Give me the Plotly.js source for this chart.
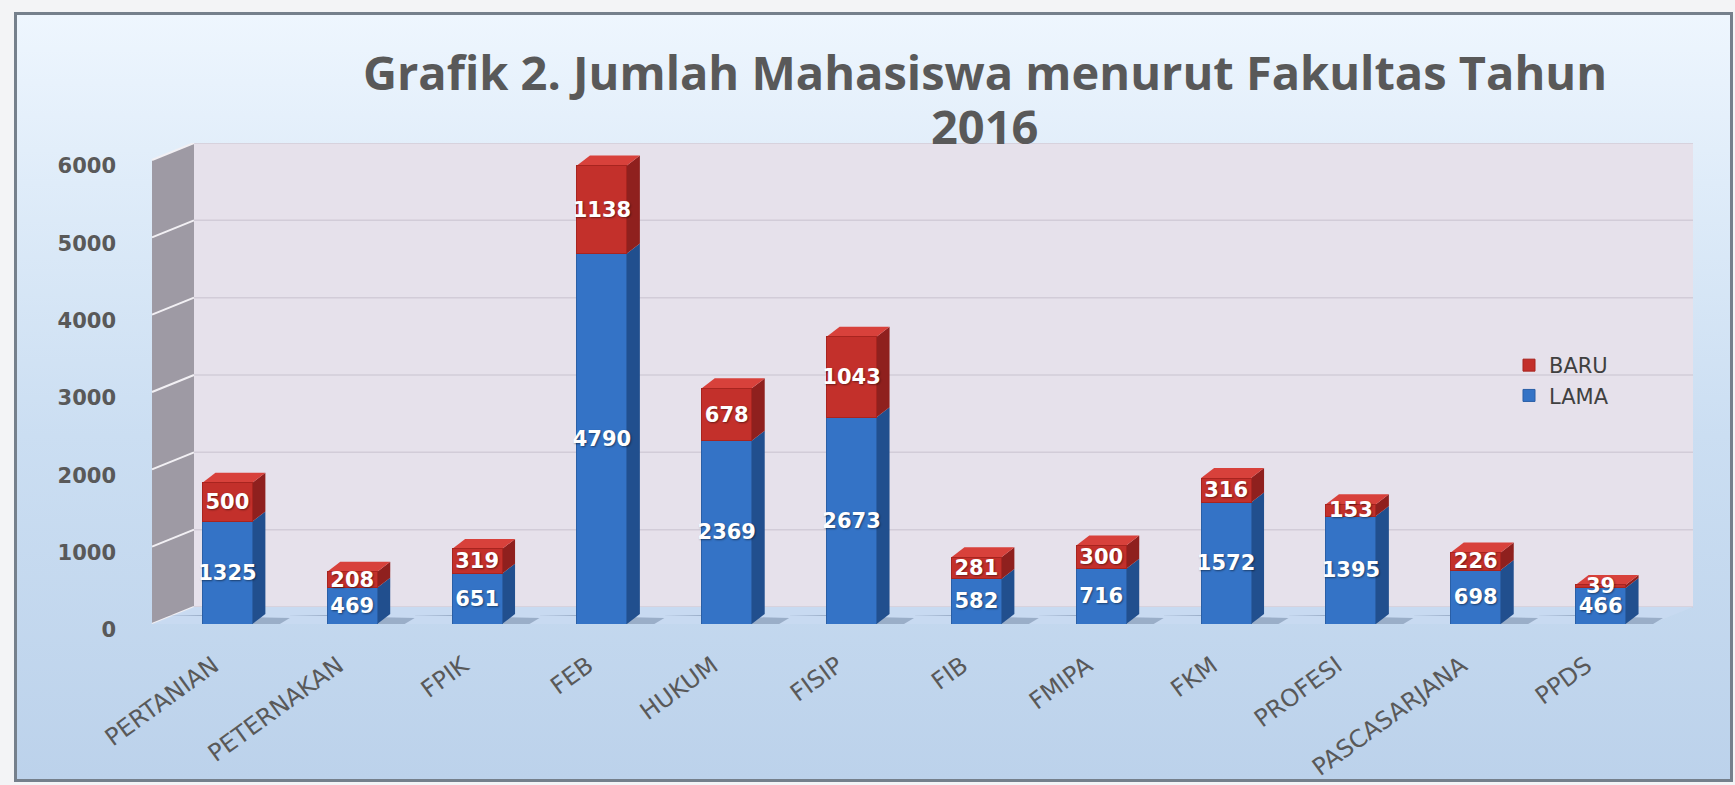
<!DOCTYPE html>
<html><head><meta charset="utf-8">
<script src="https://cdn.plot.ly/plotly-3.0.1.min.js"></script>
<style>
html,body{margin:0;padding:0;background:#f3f4f6;overflow:hidden;}
#frame{position:absolute;left:14px;top:12px;width:1713px;height:764px;border:3px solid #75808c;
  background:linear-gradient(to bottom,#eef6fe 0%,#dfecf9 22%,#cbdef2 55%,#bcd2eb 100%);}
#chart{position:absolute;left:0;top:0;width:1735px;height:785px;}
</style></head><body><div id="frame"></div><div id="chart"></div>
<script>
// ---- data ----
const categories = ['PERTANIAN','PETERNAKAN','FPIK','FEB','HUKUM','FISIP','FIB','FMIPA','FKM','PROFESI','PASCASARJANA','PPDS'];
const lama = [1325,469,651,4790,2369,2673,582,716,1572,1395,698,466];
const baru = [500,208,319,1138,678,1043,281,300,316,153,226,39];
const yTicks = [0,1000,2000,3000,4000,5000,6000];
const seriesNames = ['LAMA','BARU'];
const titleLine1 = 'Grafik 2. Jumlah Mahasiswa menurut Fakultas Tahun';
const titleLine2 = '2016';

// ---- geometry (pixels -> axis/paper units) ----
const W = 1735, H = 785;
const M = {l:165, r:72, t:143, b:161};
const plotW = W - M.l - M.r, plotH = H - M.t - M.b;
const yTop = 6220;
const pxPerUnit = plotH / yTop;
const wallDx = 42 / plotW;            // paper units
const wallDy = 17 / pxPerUnit;        // y units
const xf = (152 - M.l) / plotW;
const xb = xf + wallDx;
const xbR = (1693 - M.l) / plotW;
const xfR = xbR - wallDx;
const xUnitPx = plotW / categories.length;
const barW = 0.40;
const barDx = 13 / xUnitPx;
const barDy = 10 / pxPerUnit;
const xIdx = categories.map((_, i) => i);
const yMaxTick = yTicks[yTicks.length - 1];

const shapes = [];
// side wall
shapes.push({type:'path', xref:'paper', yref:'y', layer:'below', line:{width:0},
  fillcolor:'#9e9aa4',
  path:`M${xf},0 L${xb},${wallDy} L${xb},${yMaxTick+wallDy} L${xf},${yMaxTick} Z`});
// back wall
shapes.push({type:'rect', xref:'paper', yref:'y', layer:'below', line:{width:0},
  fillcolor:'#e6e1eb', x0:xb, x1:xbR, y0:wallDy, y1:yMaxTick+wallDy});
// gridlines
yTicks.forEach(v => {
  shapes.push({type:'line', xref:'paper', yref:'y', layer:'below', line:{color:'#d2ccd8', width:1.5},
    x0:xb, x1:xbR, y0:v+wallDy, y1:v+wallDy});
  shapes.push({type:'line', xref:'paper', yref:'y', layer:'below', line:{color:'#f2f0f4', width:2},
    x0:xf, x1:xb, y0:v, y1:v+wallDy});
});
// floor
shapes.push({type:'path', xref:'paper', yref:'y', layer:'below', line:{width:0},
  fillcolor:'rgba(200,218,240,0.95)',
  path:`M${xf},0 L${xb},${wallDy} L${xbR},${wallDy} L${xfR},0 Z`});

// 3D faces of bars
xIdx.forEach(i => {
  const L = i - barW/2, R = i + barW/2;
  const y1 = lama[i], y2 = lama[i] + baru[i];
  shapes.push({type:'path', xref:'x', yref:'y', layer:'between', line:{width:0},
    fillcolor:'rgba(60,80,115,0.32)',
    path:`M${L-0.3},${barDy*0.9} L${L},${barDy*0.9} L${L},0 L${R+0.22},0 L${R+0.3},${barDy*0.6} Z`});
  shapes.push({type:'path', xref:'x', yref:'y', layer:'between', line:{width:0},
    fillcolor:'#214f8e',
    path:`M${R},0 L${R+barDx},${barDy} L${R+barDx},${y1+barDy} L${R},${y1} Z`});
  shapes.push({type:'path', xref:'x', yref:'y', layer:'between', line:{width:0},
    fillcolor:'#8f201e',
    path:`M${R},${y1} L${R+barDx},${y1+barDy} L${R+barDx},${y2+barDy} L${R},${y2} Z`});
  shapes.push({type:'path', xref:'x', yref:'y', layer:'between', line:{width:0},
    fillcolor:'#d8413b',
    path:`M${L},${y2} L${L+barDx},${y2+barDy} L${R+barDx},${y2+barDy} L${R},${y2} Z`});
});

const labelFont = {family:'DejaVu Sans', size:21, color:'#ffffff', weight:700, shadow:'1px 1px 2px rgba(0,0,0,0.45)'};
const titleFont = {family:'Open Sans', size:47, color:'#595959', weight:700};

const traces = [
  {type:'bar', name:seriesNames[0], x:xIdx, y:lama, width:barW,
   marker:{color:'#3473c6', line:{color:'#2a5fa6', width:1}},
   text:lama.map(String), textposition:'inside', insidetextanchor:'middle', textangle:0,
   constraintext:'none', textfont:labelFont, hoverinfo:'skip', cliponaxis:false},
  {type:'bar', name:seriesNames[1], x:xIdx, y:baru, width:barW,
   marker:{color:'#c3302b', line:{color:'#a8241f', width:1}},
   text:baru.map(String), textposition:'inside', insidetextanchor:'middle', textangle:0,
   constraintext:'none', textfont:labelFont, hoverinfo:'skip', cliponaxis:false}
];

const layout = {
  width:W, height:H, margin:M,
  paper_bgcolor:'rgba(0,0,0,0)', plot_bgcolor:'rgba(0,0,0,0)',
  barmode:'stack', showlegend:true,
  title:{text:titleLine1, x:985/W, xanchor:'center', xref:'container', y:1-74/H, yanchor:'middle', yref:'container',
    font:titleFont},
  annotations:[{text:titleLine2, xref:'paper', yref:'paper', x:(985-M.l)/plotW, y:(H-M.b-126)/plotH,
    xanchor:'center', yanchor:'middle', showarrow:false, font:titleFont}],
  xaxis:{range:[-0.5, categories.length-0.5], tickvals:xIdx, ticktext:categories, tickangle:-36,
    showgrid:false, zeroline:false, showline:false, ticks:'',
    ticklabelstandoff:22, ticklabelshift:-14,
    tickfont:{family:'DejaVu Sans', size:24, color:'#595959'}},
  yaxis:{range:[0, yTop], tickvals:yTicks, ticktext:yTicks.map(String), showgrid:false, zeroline:false,
    showline:false, ticks:'', ticklabelstandoff:48, ticklabelshift:6,
    tickfont:{family:'DejaVu Sans', size:21, color:'#595959', weight:700}},
  legend:{traceorder:'reversed', x:(1509-M.l)/plotW, xanchor:'left', y:(H-M.b-345)/plotH, yanchor:'top',
    bgcolor:'rgba(0,0,0,0)', font:{family:'DejaVu Sans', size:21, color:'#404040'}},
  shapes:shapes
};

Plotly.newPlot('chart', traces, layout, {displayModeBar:false, staticPlot:true});
</script></body></html>
